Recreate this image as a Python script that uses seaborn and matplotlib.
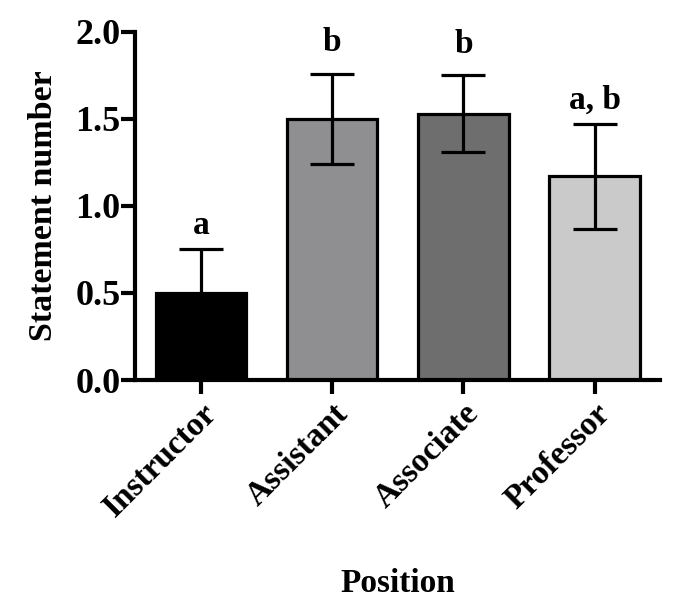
import matplotlib
matplotlib.use("Agg")
import matplotlib.pyplot as plt
import seaborn as sns
import pandas as pd

positions = ["Instructor", "Assistant", "Associate", "Professor"]
means = [0.50, 1.50, 1.53, 1.17]
errors = [0.25, 0.26, 0.22, 0.30]
letters = ["a", "b", "b", "a, b"]
colors = ["#000000", "#8e8e92", "#6e6e6e", "#cacaca"]

sns.set_style("ticks")
plt.rcParams["font.family"] = ["Liberation Serif", "DejaVu Serif"]
plt.rcParams["font.weight"] = "bold"
plt.rcParams["text.color"] = "black"
plt.rcParams["axes.labelcolor"] = "black"

df = pd.DataFrame({"Position": positions, "Statement number": means})

fig = plt.figure(figsize=(6.76, 6.12), dpi=100)
ax = fig.add_axes([0.2, 0.379, 0.777, 0.569])

sns.barplot(data=df, x="Position", y="Statement number", hue="Position",
            palette=colors, order=positions, hue_order=positions,
            width=0.69, edgecolor="black", linewidth=2.3, errorbar=None,
            legend=False, ax=ax, zorder=2)

ax.errorbar(range(len(positions)), means, yerr=errors, fmt="none",
            ecolor="black", elinewidth=2.3, capsize=16, capthick=2.3, zorder=3)

# letters sit a little higher over the "b" groups, as in the original
gaps = [11, 16, 16, 11]
for i, (m, e, lab) in enumerate(zip(means, errors, letters)):
    ax.annotate(lab, (i, m + e), xytext=(0, gaps[i]), textcoords="offset points",
                ha="center", va="baseline", fontsize=24, fontweight="bold",
                color="black")

ax.set_ylim(0, 2.0)
ax.set_xlim(-0.5, 3.5)
ax.set_yticks([0, 0.5, 1.0, 1.5, 2.0])
ax.set_yticklabels(["0.0", "0.5", "1.0", "1.5", "2.0"], fontsize=26, fontweight="bold")
ax.set_xticks(range(len(positions)))
ax.set_xticklabels(positions, rotation=45, ha="right", rotation_mode="anchor",
                   fontsize=24, fontweight="bold")
ax.tick_params(axis="both", width=3, length=10, direction="out", pad=0.5,
               colors="black")
ax.tick_params(axis="x", pad=3)

ax.set_ylabel("Statement number", fontsize=24.5, fontweight="bold", labelpad=12)
ax.set_xlabel("Position", fontsize=24, fontweight="bold", labelpad=32)

sns.despine(ax=ax)
for side in ["left", "bottom"]:
    ax.spines[side].set_linewidth(3)
    ax.spines[side].set_color("black")

fig.savefig("out.png", dpi=100)
